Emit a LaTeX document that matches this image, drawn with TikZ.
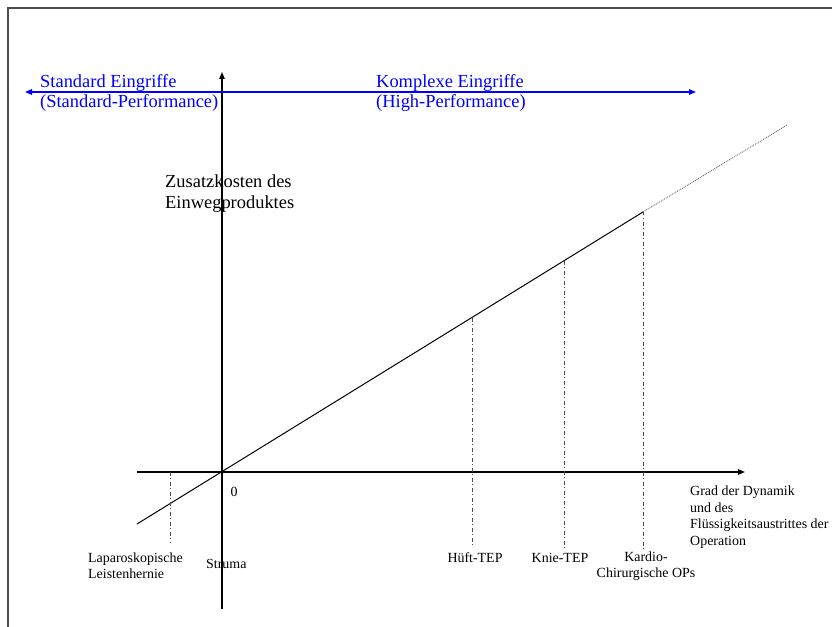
\documentclass[tikz,border=0pt]{standalone}
\usepackage{fontspec}
\setmainfont{Liberation Serif}
\usetikzlibrary{arrows.meta}
\begin{document}
\begin{tikzpicture}[x=1bp,y=-1bp,
  axis/.style={line width=1.2bp,-{Triangle[length=7bp,width=5.5bp]}},
  span/.style={blue,line width=1.5bp,{Triangle[length=7bp,width=5.5bp]}-{Triangle[length=7bp,width=5.5bp]}},
  guide/.style={line width=0.9bp,black!70,dash pattern=on 3.5bp off 2.5bp on 1bp off 3bp},
  bigtxt/.style={inner sep=0pt,align=left,font=\fontsize{18.5}{21}\selectfont},
  smalltxt/.style={inner sep=0pt,font=\fontsize{14}{16.5}\selectfont}]
\useasboundingbox (0,0) rectangle (832,627);
% partial frame
\draw[line width=1.6bp,black!70] (8,627) -- (8,8.3) -- (832,8.3);

% axes
\coordinate (o) at (222,472);
\coordinate (ybot) at (222,609);
\coordinate (ytop) at (222,72);
\coordinate (xl) at (137,472);
\coordinate (xr) at (745,472);
\draw[axis] (ybot) -- (ytop);
\draw[axis] (xl) -- (xr);

% cost line
\coordinate (cl) at (137,524);
\coordinate (ck) at (643,212);
\coordinate (ce) at (787,125);
\draw[line width=1bp] (cl) -- (ck);
\draw[line width=0.9bp,black!60,densely dotted] (ck) -- (ce);

% blue span arrow
\coordinate (bl) at (25,92);
\coordinate (br) at (696,92);
\draw[span] (bl) -- (br);
\node[bigtxt,blue,anchor=west] (std) at (40,93) {Standard Eingriffe\\(Standard-Performance)};
\node[bigtxt,blue,anchor=west] (cpx) at (376,93) {Komplexe Eingriffe\\(High-Performance)};

% axis labels
\node[bigtxt,anchor=west] (ylab) at (165,194) {Zusatzkosten des\\Einwegproduktes};
\node[smalltxt,anchor=west,align=left] (xlab) at (690,517) {Grad der Dynamik\\und des\\Flüssigkeitsaustrittes der\\Operation};
\node[smalltxt,anchor=center] (zero) at (234,492) {0};

% procedures
\coordinate (lapT) at (170,472);
\coordinate (lapB) at (170,543);
\coordinate (hufT) at (472,318);
\coordinate (hufB) at (472,548);
\coordinate (kniT) at (564,261);
\coordinate (kniB) at (564,548);
\coordinate (karT) at (643,212);
\coordinate (karB) at (643,551);
\draw[guide] (lapT) -- (lapB);
\draw[guide] (hufT) -- (hufB);
\draw[guide] (kniT) -- (kniB);
\draw[guide] (karT) -- (karB);

\node[smalltxt,anchor=west,align=left] (lap) at (88,566) {Laparoskopische\\Leistenhernie};
\node[smalltxt,anchor=west] (str) at (206,564) {Struma};
\node[smalltxt] (huf) at (475,558) {Hüft-TEP};
\node[smalltxt] (kni) at (560,558) {Knie-TEP};
\node[smalltxt,align=center] (kar) at (646,566) {Kardio-\\Chirurgische OPs};
\end{tikzpicture}
\end{document}
